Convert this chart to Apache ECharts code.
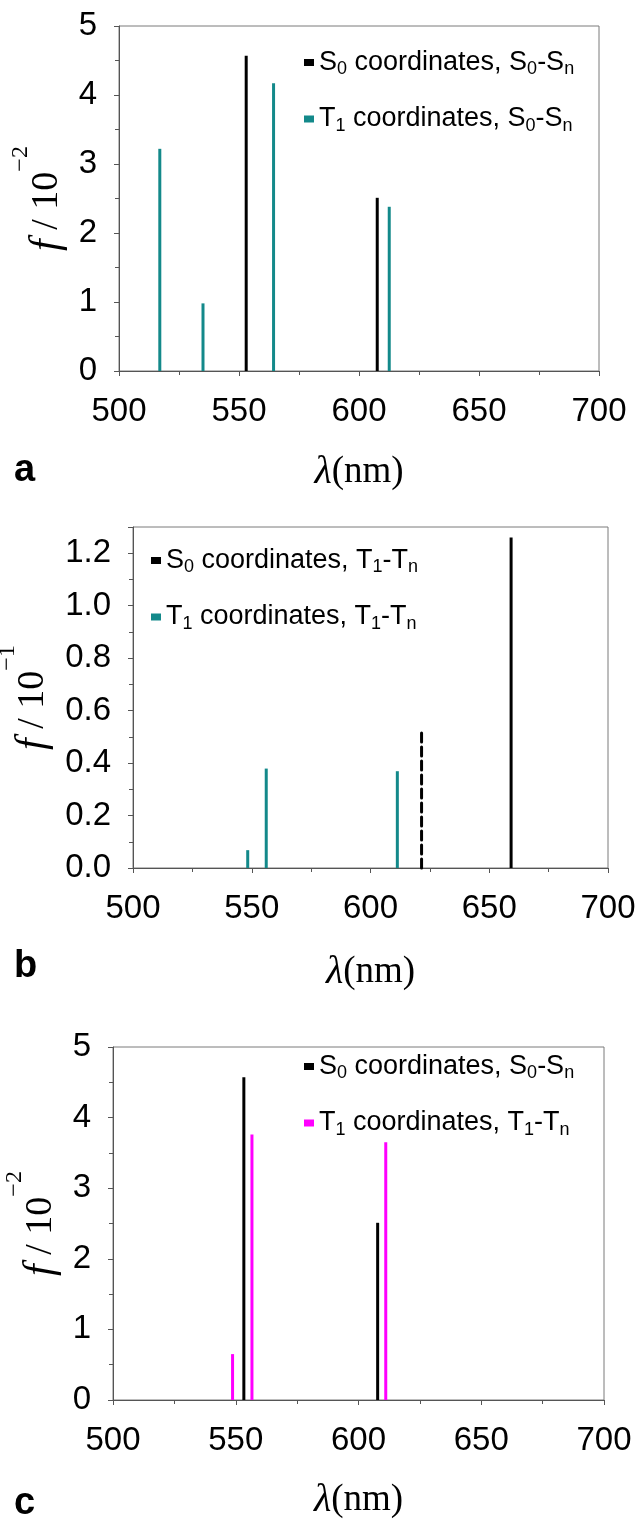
<!DOCTYPE html>
<html><head><meta charset="utf-8">
<script src="https://cdn.jsdelivr.net/npm/echarts@6/dist/echarts.min.js"></script>
<style>html,body{margin:0;padding:0;background:#fff}#c{width:636px;height:1521px}</style>
</head><body><div id="c"></div>
<script>
// ---- data ----
const xTickValues = [500, 550, 600, 650, 700];
// panel a : S0-Sn transitions
const aS0Wavelength = [553, 607.6];
const aS0Value = [4.57, 2.51];
const aT1Wavelength = [517, 535, 564.4, 612.6];
const aT1Value = [3.22, 0.98, 4.17, 2.38];
// panel b : T1-Tn transitions
const bS0Wavelength = [659.2];
const bS0Value = [1.26];
const bS0DashedWavelength = [621.5];
const bS0DashedValue = [0.52];
const bT1Wavelength = [548.3, 556.1, 611.3];
const bT1Value = [0.068, 0.379, 0.369];
// panel c : comparison
const cS0Wavelength = [553.3, 607.8];
const cS0Value = [4.57, 2.51];
const cT1Wavelength = [548.7, 556.6, 611.1];
const cT1Value = [0.65, 3.76, 3.65];
// legend texts (rich-text markup for subscripts)
const legendText = {
  'a-S0': '{m|S}{s|0}{m| coordinates, S}{s|0}{m|-S}{s|n}',
  'a-T1': '{m|T}{s|1}{m| coordinates, S}{s|0}{m|-S}{s|n}',
  'b-S0': '{m|S}{s|0}{m| coordinates, T}{s|1}{m|-T}{s|n}',
  'b-T1': '{m|T}{s|1}{m| coordinates, T}{s|1}{m|-T}{s|n}',
  'c-S0': '{m|S}{s|0}{m| coordinates, S}{s|0}{m|-S}{s|n}',
  'c-T1': '{m|T}{s|1}{m| coordinates, T}{s|1}{m|-T}{s|n}'
};
const yNames = ['{f|f}{t| / 10}{sup|\u22122}', '{f|f}{t| / 10}{sup|\u22121}', '{f|f}{t| / 10}{sup|\u22122}'];
const xName = '{l|\u03bb}{p|(nm)}';
const panelLetters = ['a', 'b', 'c'];

// ---- styling ----
const BLACK = '#000000', TEAL = '#13898a', MAGENTA = '#ff00ff';
const SANS = 'Liberation Sans, Arial, sans-serif';
const SERIF = 'Liberation Serif, Times New Roman, serif';
const AX = '#555555';

const pairs = (w, v) => w.map((x, i) => [x, v[i]]);

function stickRenderer(dash) {
  return function (params, api) {
    const x = api.value(0), y = api.value(1);
    const p0 = api.coord([x, 0]);
    const p1 = api.coord([x, y]);
    return {
      type: 'line',
      shape: { x1: p0[0], y1: p0[1], x2: p1[0], y2: p1[1] },
      style: { stroke: api.visual('color'), lineWidth: 3, lineDash: dash || null, lineCap: dash ? 'round' : 'butt' }
    };
  };
}
function stickSeries(name, idx, data, color, dash) {
  return {
    type: 'custom', name: name, xAxisIndex: idx, yAxisIndex: idx,
    coordinateSystem: 'cartesian2d',
    itemStyle: { color: color },
    renderItem: stickRenderer(dash),
    data: data, silent: true, animation: false
  };
}

const grids = [
  { left: 119, top: 26, width: 480, height: 345 },
  { left: 133, top: 527, width: 475, height: 341 },
  { left: 113, top: 1047, width: 491, height: 353 }
].map(g => Object.assign(g, {
  show: true, borderColor: '#7a7a7a', borderWidth: 1, backgroundColor: 'transparent',
  containLabel: false, outerBoundsMode: 'none'
}));

function makeX(idx, gap) {
  return {
    type: 'value', gridIndex: idx, min: xTickValues[0], max: xTickValues[xTickValues.length - 1],
    interval: xTickValues[1] - xTickValues[0],
    name: xName, nameLocation: 'middle', nameGap: gap,
    nameTextStyle: { rich: {
      l: { fontFamily: SERIF, fontStyle: 'italic', fontSize: 40, lineHeight: 40, color: '#000' },
      p: { fontFamily: SERIF, fontSize: 37, lineHeight: 40, color: '#000' }
    } },
    axisLine: { show: true, onZero: false, lineStyle: { color: AX, width: 1 } },
    axisTick: { show: true, length: 5, lineStyle: { color: AX } },
    minorTick: { show: true, splitNumber: 2, length: 4, lineStyle: { color: AX } },
    splitLine: { show: false },
    axisLabel: { fontFamily: SANS, fontSize: 33, color: '#000', margin: 24 }
  };
}
function makeY(idx, max, interval, gap, decimals) {
  return {
    type: 'value', gridIndex: idx, min: 0, max: max, interval: interval,
    name: yNames[idx], nameLocation: 'middle', nameGap: gap,
    nameTextStyle: { rich: {
      f: { fontFamily: SERIF, fontStyle: 'italic', fontSize: 42, lineHeight: 76, color: '#000' },
      t: { fontFamily: SERIF, fontSize: 38, lineHeight: 76, color: '#000' },
      sup: { fontFamily: SERIF, fontSize: 24, lineHeight: 22, verticalAlign: 'top', color: '#000' }
    } },
    axisLine: { show: true, onZero: false, lineStyle: { color: AX, width: 1 } },
    axisTick: { show: true, length: 5, lineStyle: { color: AX } },
    minorTick: { show: true, splitNumber: 2, length: 4, lineStyle: { color: AX } },
    splitLine: { show: false },
    axisLabel: {
      fontFamily: SANS, fontSize: 33, color: '#000', margin: 22, showMaxLabel: decimals ? false : true,
      formatter: v => decimals ? v.toFixed(decimals) : String(v)
    }
  };
}

const legendTextStyle = {
  fontFamily: SANS, fontSize: 27, color: '#000',
  rich: {
    m: { fontFamily: SANS, fontSize: 27, lineHeight: 32, color: '#000' },
    s: { fontFamily: SANS, fontSize: 18, lineHeight: 18, verticalAlign: 'bottom', color: '#000' }
  }
};
function makeLegend(names, left, top) {
  return {
    data: names, left: left, top: top, orient: 'vertical', itemGap: 27,
    icon: 'rect', itemWidth: 10, itemHeight: 7, itemStyle: { borderWidth: 0 }, padding: 0,
    selectedMode: false, formatter: n => legendText[n], textStyle: legendTextStyle
  };
}

const option = {
  backgroundColor: '#ffffff',
  animation: false,
  title: panelLetters.map((t, i) => ({
    text: t, left: 14, top: [452, 948, 1485][i], padding: 0,
    textStyle: { fontFamily: SANS, fontSize: 38, fontWeight: 'bold', color: '#000' }
  })),
  grid: grids,
  xAxis: [makeX(0, 81), makeX(1, 84), makeX(2, 80)],
  yAxis: [makeY(0, 5, 1, 25, 0), makeY(1, 1.3, 0.2, 45, 1), makeY(2, 5, 1, 25, 0)],
  legend: [
    makeLegend(['a-S0', 'a-T1'], 304, 49),
    makeLegend(['b-S0', 'b-T1'], 151, 547),
    makeLegend(['c-S0', 'c-T1'], 304, 1053)
  ],
  series: [
    stickSeries('a-S0', 0, pairs(aS0Wavelength, aS0Value), BLACK),
    stickSeries('a-T1', 0, pairs(aT1Wavelength, aT1Value), TEAL),
    stickSeries('b-S0', 1, pairs(bS0Wavelength, bS0Value), BLACK),
    stickSeries('b-S0', 1, pairs(bS0DashedWavelength, bS0DashedValue), BLACK, [9, 5]),
    stickSeries('b-T1', 1, pairs(bT1Wavelength, bT1Value), TEAL),
    stickSeries('c-S0', 2, pairs(cS0Wavelength, cS0Value), BLACK),
    stickSeries('c-T1', 2, pairs(cT1Wavelength, cT1Value), MAGENTA)
  ]
};
const chart = echarts.init(document.getElementById('c'), null, { renderer: 'canvas' });
chart.setOption(option);
</script>
</body></html>
